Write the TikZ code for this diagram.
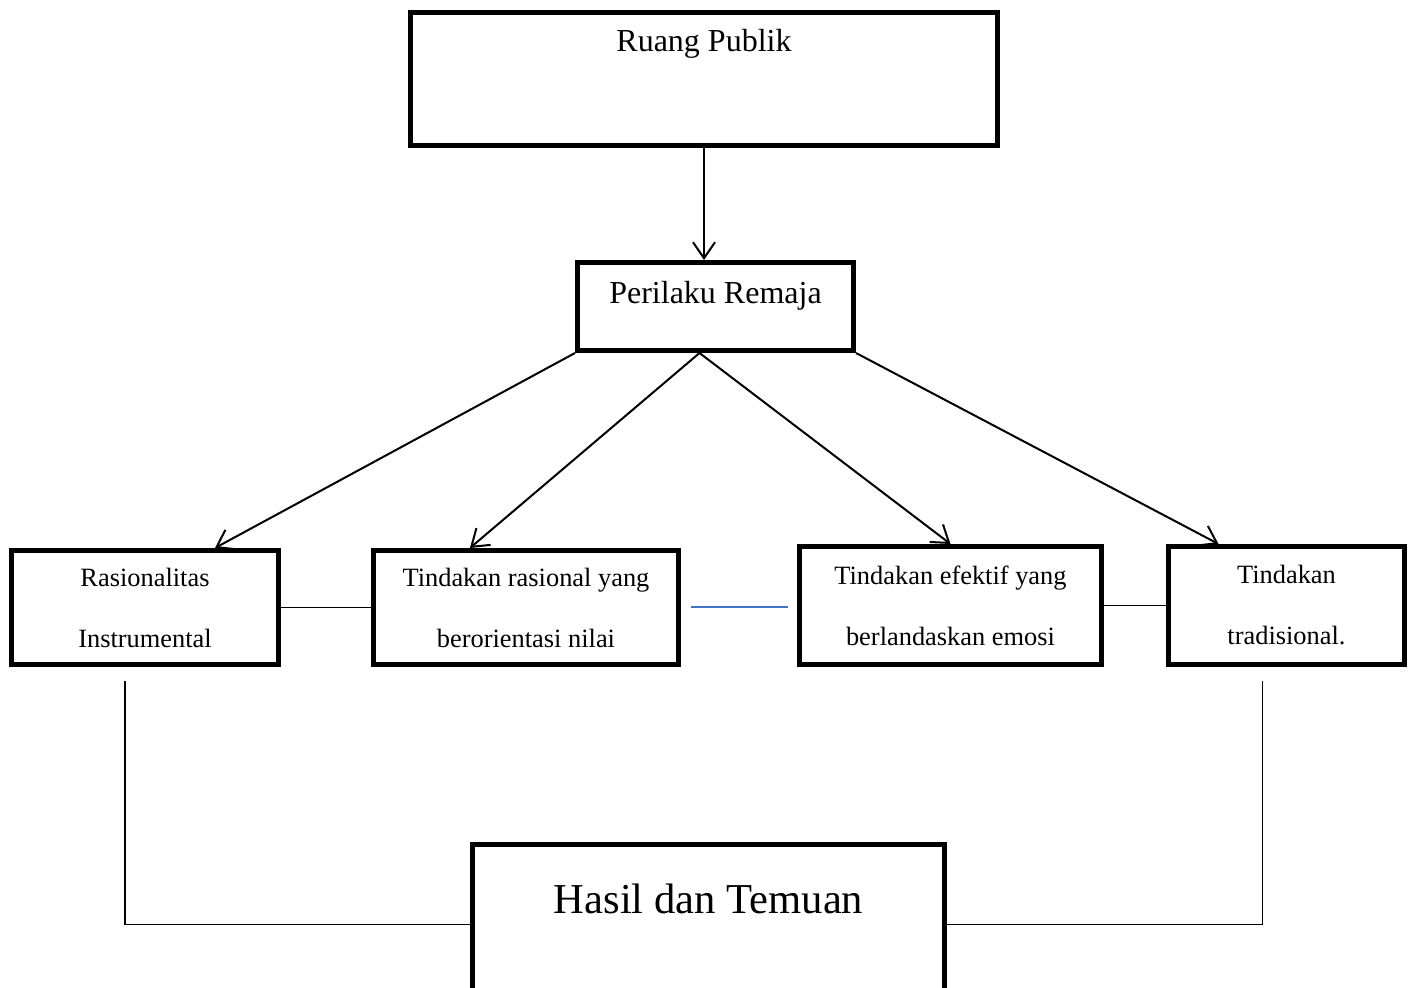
\documentclass[tikz,border=0pt]{standalone}
\usepackage{fontspec}
\setmainfont{Liberation Serif}
\usetikzlibrary{arrows.meta}
\begin{document}
\begin{tikzpicture}[x=.5pt, y=-.5pt, >={Straight Barb[length=8pt,width=11pt]},
kotak/.style={draw, line width=2.5pt, inner sep=0pt, align=center},
kecil/.style={kotak, font=\fontsize{13.2}{30.5}\selectfont},
panah/.style={->, line width=1pt},
garis/.style={line width=.75pt}]

%%%%%%%% FRAME %%%%%%%%%%%%%
\useasboundingbox (0,0) rectangle (1408,988);
%%%%%%%%%%%%%%%%%%%%%%%%%%%

\node[kotak, minimum width=293.5pt, font=\fontsize{16}{19}\selectfont,
  text height=19.75pt, text depth=46.75pt](publik) at (704,79){Ruang Publik};
\node[kotak, minimum width=138pt, font=\fontsize{16}{19}\selectfont,
  text height=20.5pt, text depth=23.5pt](remaja) at (715.5,306.5){Perilaku Remaja};

\node[kecil, minimum width=133.5pt, minimum height=57pt](instrumen) at (145,607.5){Rasionalitas\\Instrumental};
\node[kecil, minimum width=152.5pt, minimum height=57pt](nilai) at (526,607.5){Tindakan rasional yang\\berorientasi nilai};
\node[kecil, minimum width=151pt, minimum height=59pt](emosi) at (950.5,605.5){Tindakan efektif yang\\berlandaskan emosi};
\node[kecil, minimum width=118pt, minimum height=59pt](tradisi) at (1286.5,605.5){Tindakan\\tradisional.};

\node[kotak, minimum width=236pt, font=\fontsize{21.3}{25}\selectfont,
  text height=34.75pt, text depth=45.5pt](hasil) at (708.5,924.5){Hasil dan Temuan};

% arrows
\draw[panah] (publik.south) -- (publik.south |- remaja.north);
\draw[panah] (remaja.south west) -- ([xshift=35pt]instrumen.north);
\draw[panah] ([xshift=-8pt]remaja.south) -- ([xshift=-28pt]nilai.north);
\draw[panah] ([xshift=-8pt]remaja.south) -- (emosi.north);
\draw[panah] (remaja.south east) -- ([xshift=-34pt]tradisi.north);

% links
\draw[garis] (instrumen) -- (nilai);
\draw[line width=1pt, color={rgb,255:red,68;green,114;blue,196}, shorten <=5pt, shorten >=4.5pt]
  (nilai.east) -- (nilai.east -| emosi.west);
\draw[garis] (emosi) -- (tradisi);
\draw[garis] ([xshift=-10pt, yshift=-7pt]instrumen.south) |- (hasil.west);
\draw[garis] ([xshift=-12pt, yshift=-7pt]tradisi.south) |- (hasil.east);
\end{tikzpicture}
\end{document}
